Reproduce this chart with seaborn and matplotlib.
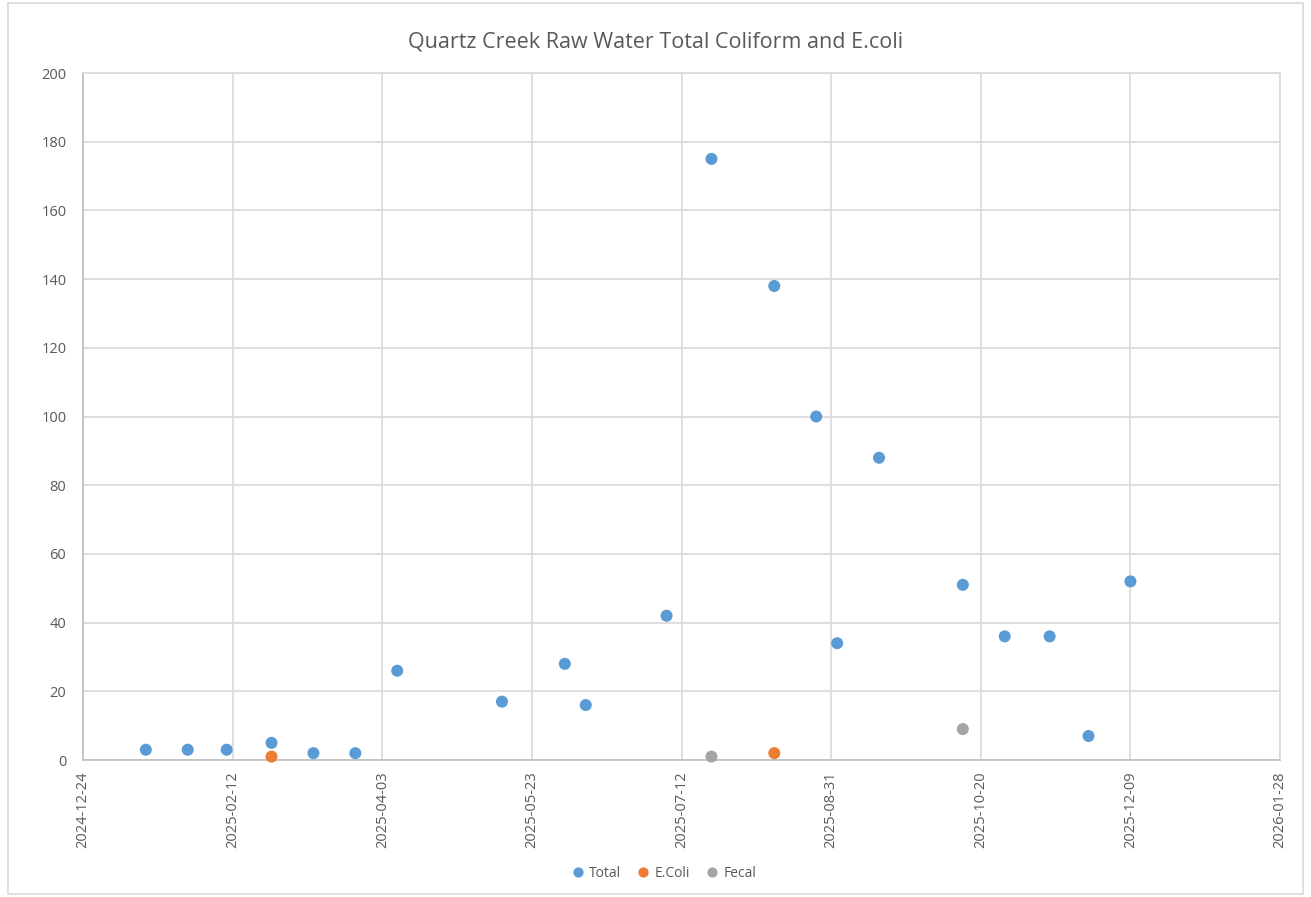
import matplotlib.pyplot as plt
import seaborn as sns
import pandas as pd
from matplotlib.patches import Rectangle

# sample data
total_dates = ["2025-01-14", "2025-01-28", "2025-02-10", "2025-02-25", "2025-03-11",
               "2025-03-25", "2025-04-08", "2025-05-13", "2025-06-03", "2025-06-10",
               "2025-07-07", "2025-07-22", "2025-08-12", "2025-08-26", "2025-09-02",
               "2025-09-16", "2025-10-14", "2025-10-28", "2025-11-12", "2025-11-25",
               "2025-12-09"]
total_values = [3, 3, 3, 5, 2, 2, 26, 17, 28, 16, 42, 175, 138, 100, 34, 88, 51, 36, 36, 7, 52]

ecoli_dates = ["2025-02-25", "2025-08-12"]
ecoli_values = [1, 2]

fecal_dates = ["2025-07-22", "2025-10-14"]
fecal_values = [1, 9]

tick_dates = ["2024-12-24", "2025-02-12", "2025-04-03", "2025-05-23", "2025-07-12",
              "2025-08-31", "2025-10-20", "2025-12-09", "2026-01-28"]

df = pd.concat([
    pd.DataFrame({"Date": total_dates, "Count": total_values, "Series": "Total"}),
    pd.DataFrame({"Date": ecoli_dates, "Count": ecoli_values, "Series": "E.Coli"}),
    pd.DataFrame({"Date": fecal_dates, "Count": fecal_values, "Series": "Fecal"}),
])
df["Date"] = pd.to_datetime(df["Date"])

sns.set_style("white")
plt.rcParams['font.family'] = ['Open Sans', 'DejaVu Sans']

fig = plt.figure(figsize=(13.11, 8.97), dpi=100)
ax = fig.add_axes([0.0633, 0.1527, 0.9131, 0.7659])

palette = {"Total": "#5B9BD5", "E.Coli": "#ED7D31", "Fecal": "#A5A5A5"}
sns.scatterplot(data=df, x="Date", y="Count", hue="Series", palette=palette,
                s=75, edgecolor="none", ax=ax, zorder=3, clip_on=False)

ticks = pd.to_datetime(tick_dates)
ax.set_xlim(ticks[0], ticks[-1])
ax.set_xticks(ticks)
ax.set_xticklabels([t.strftime("%Y-%m-%d") for t in ticks], rotation=90,
                   fontsize=10.5, color="#595959")
ax.set_ylim(0, 200)
ax.set_yticks(range(0, 201, 20))
ax.tick_params(axis="y", labelsize=10.5, colors="#595959", length=0, pad=12)
ax.tick_params(axis="x", length=0, pad=8)

ax.grid(True, color="#D9D9D9", linewidth=1.2)
ax.set_axisbelow(True)
for side in ["top", "right"]:
    ax.spines[side].set_color("#D9D9D9")
for side in ["left", "bottom"]:
    ax.spines[side].set_color("#BFBFBF")
for sp in ax.spines.values():
    sp.set_linewidth(1.2)

ax.set_xlabel("")
ax.set_ylabel("")

fig.suptitle("Quartz Creek Raw Water Total Coliform and E.coli", y=0.965,
             fontsize=15.5, color="#595959")

ax.legend(loc="center", bbox_to_anchor=(0.482, -0.165), ncol=3, frameon=False,
          fontsize=10, handletextpad=-0.2, columnspacing=0.6, markerscale=0.85,
          labelcolor="#595959")

# outer chart border
fig.patches.append(Rectangle((0.006, 0.003), 0.988, 0.994, transform=fig.transFigure,
                             fill=False, edgecolor="#D9D9D9", linewidth=1.2))

fig.savefig("out.png", dpi=100)
